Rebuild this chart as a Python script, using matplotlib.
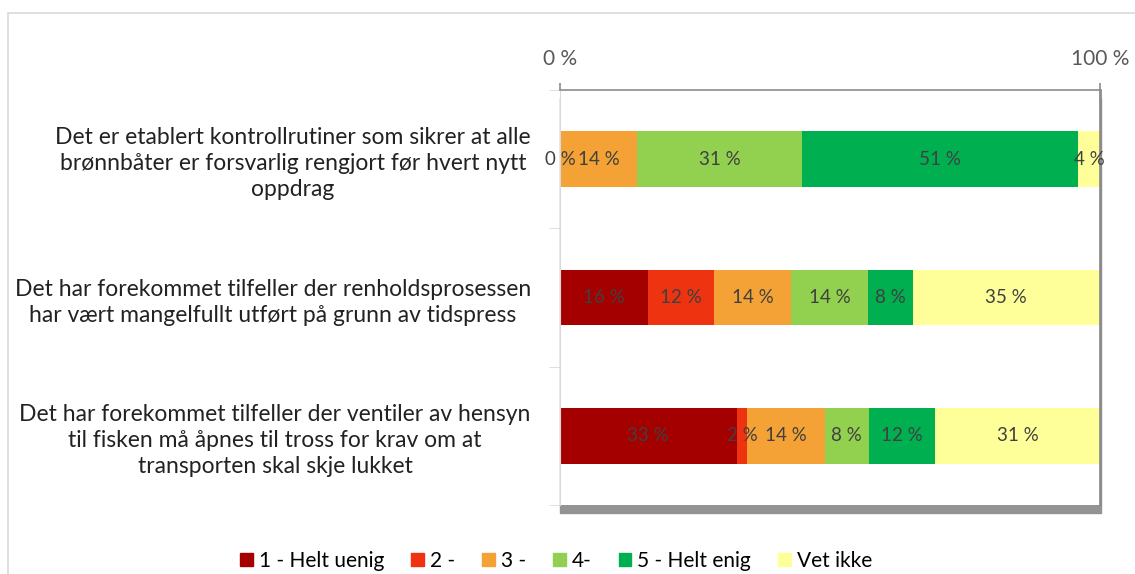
import matplotlib.pyplot as plt
import numpy as np
from matplotlib.patches import Rectangle, Patch

# kategorier (utsagn), fra topp til bunn
utsagn = [
    "Det er etablert kontrollrutiner som sikrer at alle\nbrønnbåter er forsvarlig rengjort før hvert nytt\noppdrag",
    "Det har forekommet tilfeller der renholdsprosessen\nhar vært mangelfullt utført på grunn av tidspress",
    "Det har forekommet tilfeller der ventiler av hensyn\ntil fisken må åpnes til tross for krav om at\ntransporten skal skje lukket",
]
svar = ["1 - Helt uenig", "2 -", "3 -", "4-", "5 - Helt enig", "Vet ikke"]

# andel (%) per svaralternativ, en liste per utsagn
rad1 = [0.0, 0.0, 14.3, 30.6, 51.0, 4.1]
rad2 = [16.3, 12.2, 14.3, 14.3, 8.2, 34.7]
rad3 = [32.7, 2.0, 14.3, 8.2, 12.2, 30.6]

farger = ["#A50000", "#EE3311", "#F4A236", "#92D050", "#00B050", "#FFFF99"]

plt.rcParams['font.family'] = ['Lato', 'DejaVu Sans']

fig = plt.figure(figsize=(11.35, 5.74), dpi=100)

# ramme rundt diagrammet
fig.patches.append(Rectangle((8 / 1135, -0.05), 1.2, 1 - 13 / 574 + 0.05,
                             transform=fig.transFigure, fill=False,
                             edgecolor="#D9D9D9", lw=1.2, zorder=0))

ax_l, ax_b, ax_w, ax_h = 560 / 1135, 1 - 505 / 574, 540 / 1135, 415 / 574
# skygge under plottområdet
fig.patches.append(Rectangle((ax_l, ax_b - 8 / 574), ax_w + 1 / 1135, ax_h,
                             transform=fig.transFigure, color="#939393", zorder=0))
ax = fig.add_axes([ax_l, ax_b, ax_w, ax_h])
ax.set_zorder(3)
ax.set_facecolor("white")

data = np.array([rad1, rad2, rad3])
y = np.arange(len(utsagn))
venstre = np.zeros(len(utsagn))
for j in range(len(svar)):
    vals = data[:, j]
    ax.barh(y, vals, left=venstre, height=0.4, color=farger[j], label=svar[j])
    for i in range(len(utsagn)):
        if j == 1 and vals[i] == 0:
            continue
        ax.text(venstre[i] + vals[i] / 2, y[i], f"{vals[i]:.0f} %",
                ha="center", va="center", fontsize=13.5, color="#404040")
    venstre += vals

ax.set_xlim(0, 100)
ax.set_ylim(2.5, -0.5)
ax.xaxis.tick_top()
ax.set_xticks([0, 100])
ax.set_xticklabels(["0 %", "100 %"], fontsize=15, color="#595959")
ax.tick_params(axis="x", length=5, width=1.2, color="#8C8C8C", pad=10)
ax.set_yticks(y)
ax.set_yticklabels(utsagn, fontsize=16.5, color="#222222", linespacing=1.3,
                   multialignment="center")
ax.tick_params(axis="y", length=0, pad=21)
ax.set_yticks([-0.5, 0.5, 1.5, 2.5], minor=True)
ax.tick_params(axis="y", which="minor", length=8, color="#D9D9D9")
ax.spines["bottom"].set_visible(False)
ax.spines["top"].set_color("#8C8C8C")
ax.spines["top"].set_linewidth(1.2)
ax.spines["left"].set_color("#D9D9D9")
ax.spines["right"].set_color("#8C8C8C")
ax.spines["right"].set_linewidth(2)

handles = [Patch(color=c, label=s) for c, s in zip(farger, svar)]
fig.legend(handles=handles, loc="center", bbox_to_anchor=(0.49, 1 - 561 / 574),
           ncol=6, frameon=False, fontsize=15, handlelength=0.6, handleheight=0.6,
           handletextpad=0.3, columnspacing=1.3)

fig.savefig("out.png", dpi=100)
